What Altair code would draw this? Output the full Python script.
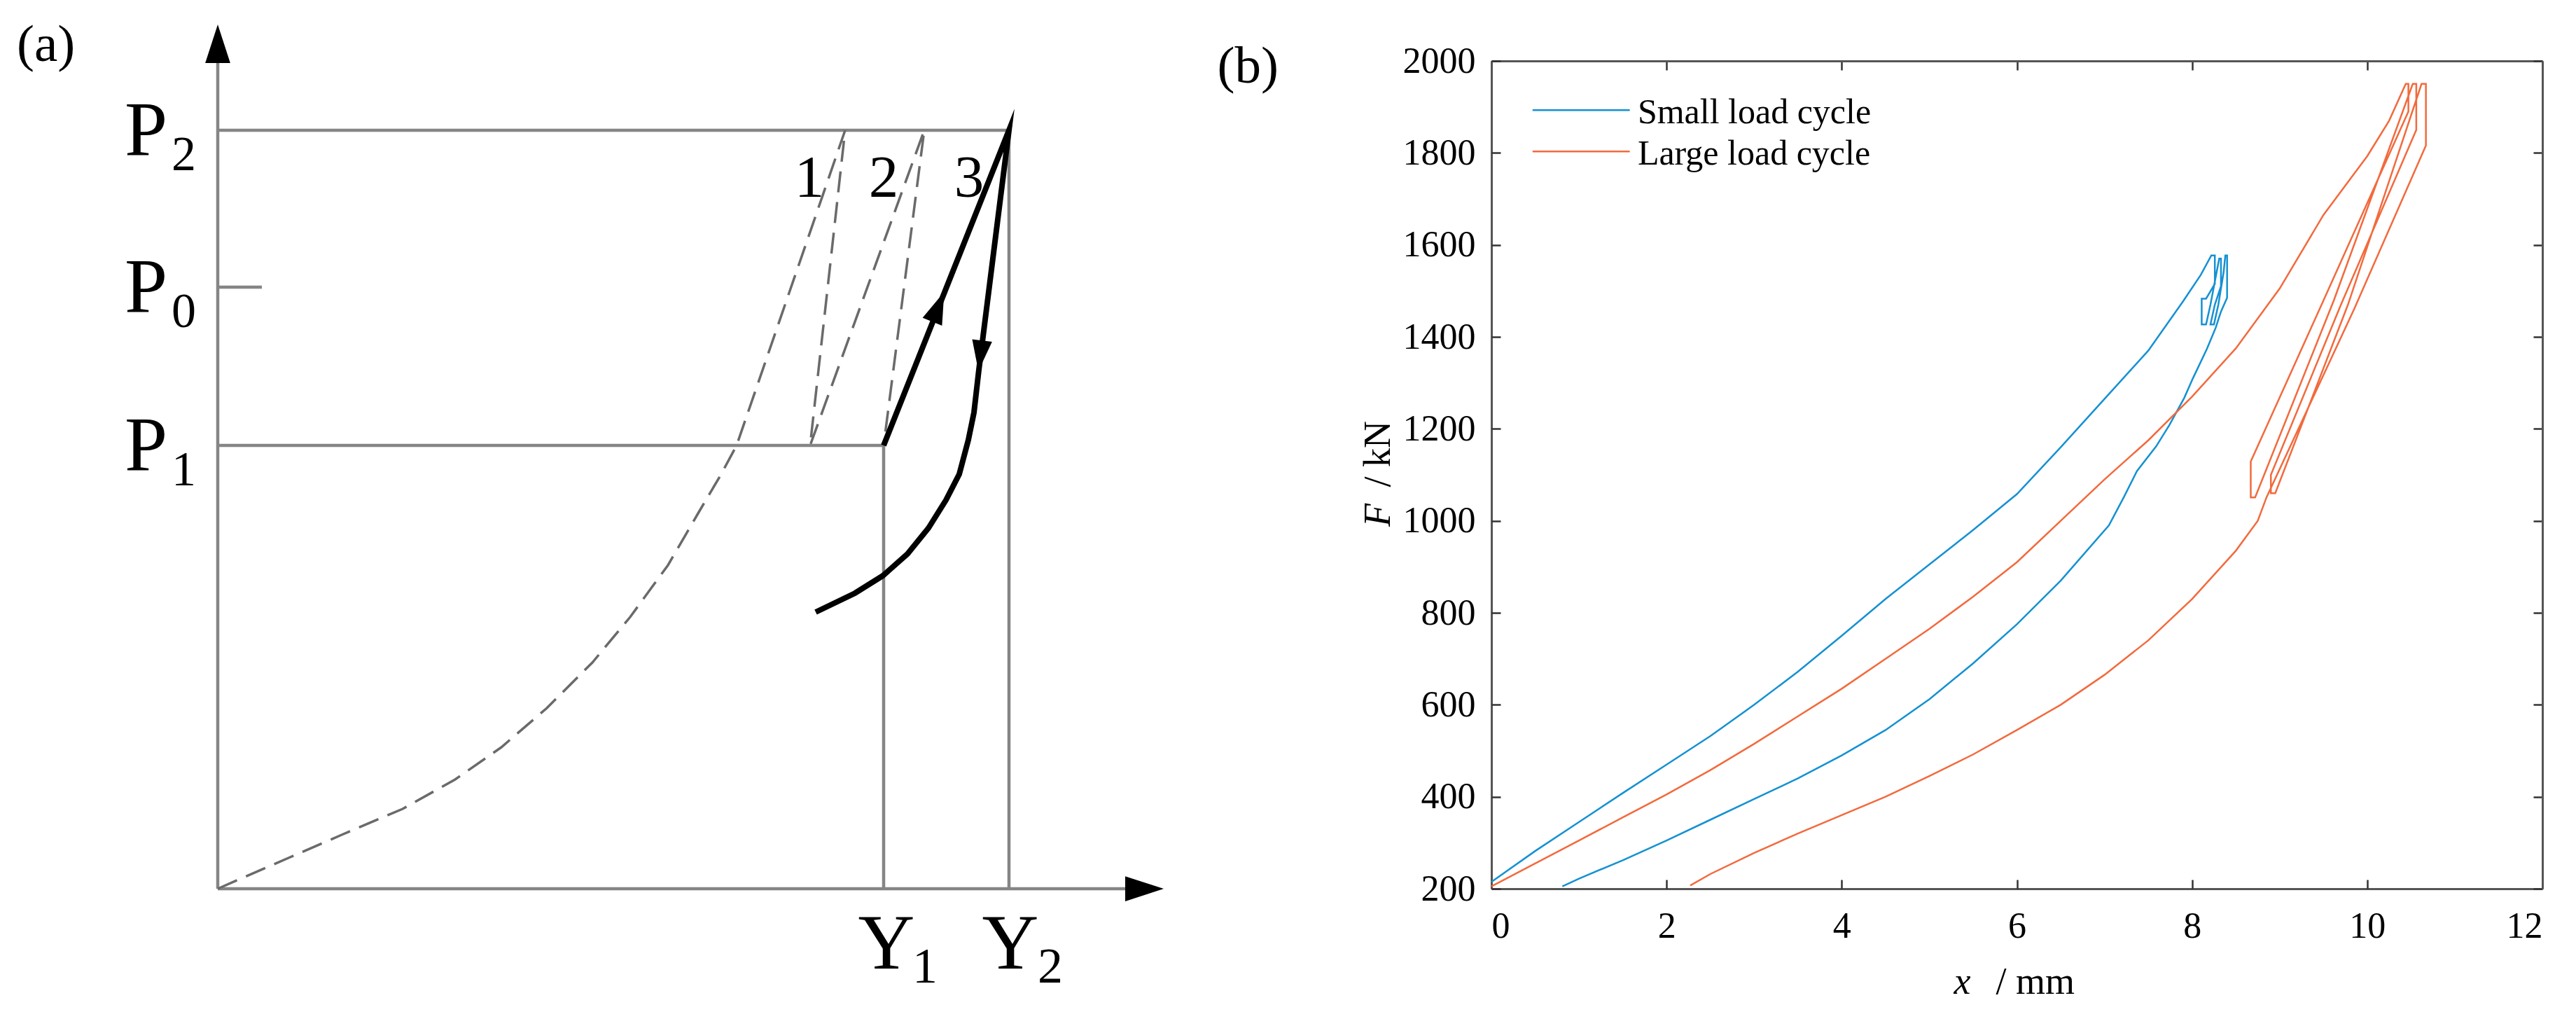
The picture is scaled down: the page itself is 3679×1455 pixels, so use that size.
import altair as alt
import pandas as pd

FONT = "Liberation Serif"
BLUE = "#1591D2"
ORANGE = "#F26A3D"
AXIS_GREY = "#555555"

# ---------------- Panel (b): measured curves (x in mm, F in kN) ----------------
series_names = ["Small load cycle", "Large load cycle"]

small_x = [0.00, 0.50, 1.00, 1.50, 2.00, 2.50, 3.00, 3.50, 4.00, 4.50, 5.00, 5.50, 6.00, 6.50, 7.00, 7.50, 7.90, 8.10, 8.22,
           8.26, 8.26, 8.16, 8.11, 8.11, 8.16, 8.21, 8.28, 8.31, 8.33, 8.33, 8.26, 8.21, 8.25, 8.30, 8.36, 8.38, 8.40, 8.40, 8.33, 8.27,
           8.24, 8.17, 8.01, 7.91, 7.74, 7.59, 7.37, 7.22, 7.05, 6.50, 6.00, 5.50, 5.00, 4.50, 4.00, 3.50, 3.00, 2.50, 2.00, 1.50, 1.00, 0.81]
small_F = [215, 282, 345, 408, 470, 532, 600, 672, 750, 830, 905, 980, 1058, 1160, 1265, 1370, 1478, 1535, 1577,
           1577, 1515, 1483, 1483, 1427, 1427, 1470, 1540, 1570, 1570, 1510, 1470, 1427, 1427, 1470, 1540, 1577, 1577, 1485, 1455, 1420,
           1406, 1374, 1310, 1267, 1208, 1162, 1108, 1051, 990, 870, 775, 690, 612, 545, 490, 440, 395, 350, 305, 262, 222, 205]

large_x = [0.00, 0.50, 1.00, 1.50, 2.00, 2.50, 3.00, 3.50, 4.00, 4.50, 5.00, 5.50, 6.00, 6.50, 7.00, 7.50, 8.00, 8.50, 9.00, 9.50, 10.00, 10.25, 10.44,
           10.47, 10.47, 9.55, 8.67, 8.67, 8.72, 9.62, 10.52, 10.56, 10.56, 9.70, 8.90, 8.90, 8.95, 9.78, 10.62, 10.67, 10.67, 9.85, 8.85,
           8.75, 8.50, 8.00, 7.50, 7.00, 6.50, 6.00, 5.50, 5.00, 4.50, 4.00, 3.50, 3.00, 2.50, 2.27]
large_F = [205, 255, 305, 355, 405, 458, 515, 575, 635, 700, 765, 835, 910, 1000, 1090, 1175, 1270, 1375, 1505, 1665, 1793, 1870, 1950,
           1950, 1890, 1500, 1129, 1051, 1051, 1480, 1950, 1950, 1850, 1470, 1100, 1060, 1060, 1470, 1950, 1950, 1816, 1460, 1051,
           1000, 935, 830, 740, 665, 600, 545, 492, 445, 400, 360, 320, 278, 232, 207]

x_ticks = [0, 2, 4, 6, 8, 10, 12]
y_ticks = [200, 400, 600, 800, 1000, 1200, 1400, 1600, 1800, 2000]

# legend / panel label placement (panel b data units)
legend_line_x = [0.47, 1.58]
legend_line_F = [1893, 1803]
legend_text_x = 1.67
legend_text_F = [1864, 1775]
label_b_pos = (-3.13, 1953)

# ---------------- Panel (a): schematic (drawing units, origin at axes corner) ----------------
A_Y1, A_Y2 = 951, 1130
A_P1, A_P0, A_P2 = 633, 859, 1083

gray_seg_x = [[0, 0], [0, 1296], [0, A_Y2], [0, A_Y1], [0, 63], [A_Y1, A_Y1], [A_Y2, A_Y2]]
gray_seg_y = [[0, 1179], [0, 0], [A_P2, A_P2], [A_P1, A_P1], [A_P0, A_P0], [0, A_P1], [0, A_P2]]

dash_x = [0, 32, 101, 177, 264, 339, 405, 470, 535, 589, 643, 686, 719, 741, 896, 846, 1009, 951]
dash_y = [0, 14, 44, 77, 114, 156, 202, 258, 323, 388, 462, 536, 592, 633, 1083, 633, 1083, 633]

black_x = [951, 1130, 1087, 1080, 1072, 1059, 1040, 1015, 985, 950, 910, 854]
black_y = [633, 1083, 741, 680, 641, 592, 555, 515, 478, 447, 422, 395]

arrow_x = [0, 1323.5, 1029, 1089]
arrow_y = [1206.5, 0, 831, 761]
arrow_angle = [0, 90, 21.7, 187]
arrow_len = [55, 55, 46, 44]
ARROW = "M0,-1L0.65,1L-0.65,1Z"

left_text = ["P", "2", "P", "0", "P", "1", "1", "2", "(a)"]
left_x = [-133, -66, -133, -66, -133, -66, 992, 1171, -287]
left_y = [1048, 1026, 824, 802, 598, 576, -134, -134, 1182]
left_fs = [110, 70, 110, 70, 110, 70, 72, 72, 75]

center_text = ["Y", "Y", "1", "2", "3"]
center_x = [955, 1132, 845, 951, 1073]
center_y = [-114, -114, 988, 988, 988]
center_fs = [112, 112, 85, 85, 85]

# ---------------- Build tables ----------------
rows = []
for name, xs_, fs_ in zip(series_names, [small_x, large_x], [small_F, large_F]):
    for i, (a, b) in enumerate(zip(xs_, fs_)):
        rows.append({"series": name, "x": a, "F": b, "i": i})
df_b = pd.DataFrame(rows)

df_leg = pd.DataFrame({"series": series_names,
                       "x1": [legend_line_x[0]] * 2, "x2": [legend_line_x[1]] * 2,
                       "F": legend_line_F})
df_txt_b = pd.DataFrame({"t": series_names + ["(b)"],
                         "x": [legend_text_x, legend_text_x, label_b_pos[0]],
                         "F": legend_text_F + [label_b_pos[1]],
                         "fs": [50, 50, 75]})

g_rows = []
for s, (xx, yy) in enumerate(zip(gray_seg_x, gray_seg_y)):
    for i, (a, b) in enumerate(zip(xx, yy)):
        g_rows.append({"seg": s, "i": i, "x": a, "y": b})
df_gray = pd.DataFrame(g_rows)
df_dash = pd.DataFrame({"x": dash_x, "y": dash_y, "i": range(len(dash_x))})
df_black = pd.DataFrame({"x": black_x, "y": black_y, "i": range(len(black_x))})
df_arrow = pd.DataFrame({"x": arrow_x, "y": arrow_y, "ang": arrow_angle,
                         "sz": [v * v for v in arrow_len]})
df_tl = pd.DataFrame({"t": left_text, "x": left_x, "y": left_y, "fs": left_fs})
df_tc = pd.DataFrame({"t": center_text, "x": center_x, "y": center_y, "fs": center_fs})

# ---------------- Panel (a) ----------------
xa = alt.Scale(domain=[-291, 1389], nice=False, zero=False)
ya = alt.Scale(domain=[0, 1182], nice=False, zero=False)
XA = alt.X("x:Q", scale=xa, axis=None)
YA = alt.Y("y:Q", scale=ya, axis=None)

gray = alt.Chart(df_gray).mark_line(color="#858585", strokeWidth=4.5, strokeCap="butt").encode(
    x=XA, y=YA, detail="seg:N", order="i:Q")
dash = alt.Chart(df_dash).mark_line(color="#6a6a6a", strokeWidth=3.5, strokeDash=[30, 14]).encode(
    x=XA, y=YA, order="i:Q")
black = alt.Chart(df_black).mark_line(color="black", strokeWidth=8, strokeJoin="miter",
                                      strokeMiterLimit=8).encode(x=XA, y=YA, order="i:Q")
arrows = alt.Chart(df_arrow).mark_point(shape=ARROW, filled=True, color="black", opacity=1,
                                        strokeWidth=0).encode(
    x=XA, y=YA, angle=alt.Angle("ang:Q", scale=None), size=alt.Size("sz:Q", scale=None))
txt_l = alt.Chart(df_tl).mark_text(align="left", baseline="alphabetic", font=FONT, color="black").encode(
    x=XA, y=YA, text="t:N", size=alt.Size("fs:Q", scale=None))
txt_c = alt.Chart(df_tc).mark_text(align="center", baseline="alphabetic", font=FONT, color="black").encode(
    x=XA, y=YA, text="t:N", size=alt.Size("fs:Q", scale=None))

panel_a = alt.layer(gray, dash, black, arrows, txt_l, txt_c).properties(width=1680, height=1182)

# ---------------- Panel (b) ----------------
xs = alt.Scale(domain=[0, 12], nice=False, zero=False)
ys = alt.Scale(domain=[200, 2000], nice=False, zero=False)
cs = alt.Scale(domain=series_names, range=[BLUE, ORANGE])

tick_style = dict(ticks=True, tickSize=13, tickWidth=2.5, tickColor="#333333", labels=False, grid=False)

lines = alt.Chart(df_b).mark_line(strokeWidth=2.5).encode(
    x=alt.X("x:Q", scale=xs, axis=alt.Axis(
        orient="bottom", values=x_ticks, format="d", ticks=False, tickSize=0, grid=False,
        domain=True, domainColor=AXIS_GREY, domainWidth=3,
        labelFont=FONT, labelFontSize=52, labelColor="black", labelPadding=28,
        title="x", titleFont=FONT, titleFontSize=54, titleFontStyle="italic", titleFontWeight="normal",
        titleColor="black", titleX=672, titleY=149, titleAlign="center", titleBaseline="alphabetic",
        titleAngle=0)),
    y=alt.Y("F:Q", scale=ys, axis=alt.Axis(
        orient="left", values=y_ticks, format="d", ticks=False, tickSize=0, grid=False,
        domain=True, domainColor=AXIS_GREY, domainWidth=3,
        labelFont=FONT, labelFontSize=52, labelColor="black", labelPadding=23,
        title="F", titleFont=FONT, titleFontSize=54, titleFontStyle="italic", titleFontWeight="normal",
        titleColor="black", titleX=-146, titleY=648, titleAlign="center", titleBaseline="alphabetic",
        titleAngle=270)),
    color=alt.Color("series:N", scale=cs, legend=None),
    order="i:Q")

legend_rules = alt.Chart(df_leg).mark_rule(strokeWidth=2.5).encode(
    x=alt.X("x1:Q", scale=xs, axis=alt.Axis(
        orient="top", offset=-1182, values=x_ticks, domain=False,
        title="/ mm", titleFont=FONT, titleFontSize=54, titleFontWeight="normal", titleColor="black",
        titleX=720, titleY=149, titleAlign="left", titleBaseline="alphabetic", titleAngle=0,
        **tick_style)),
    x2="x2:Q",
    y=alt.Y("F:Q", scale=ys, axis=alt.Axis(
        orient="right", offset=-1501, values=y_ticks, domain=False,
        title="/ kN", titleFont=FONT, titleFontSize=54, titleFontWeight="normal", titleColor="black",
        titleX=-146, titleY=608, titleAlign="left", titleBaseline="alphabetic", titleAngle=270,
        **tick_style)),
    color=alt.Color("series:N", scale=cs, legend=None))

texts_b = alt.Chart(df_txt_b).mark_text(align="left", baseline="alphabetic", font=FONT, color="black").encode(
    x=alt.X("x:Q", scale=xs, axis=alt.Axis(
        orient="bottom", offset=-1182, values=x_ticks, title=None,
        domain=True, domainColor=AXIS_GREY, domainWidth=3, **tick_style)),
    y=alt.Y("F:Q", scale=ys, axis=alt.Axis(
        orient="left", offset=-1501, values=y_ticks, title=None,
        domain=True, domainColor=AXIS_GREY, domainWidth=3, **tick_style)),
    text="t:N",
    size=alt.Size("fs:Q", scale=None))

panel_b = alt.layer(lines, legend_rules, texts_b).resolve_axis(
    x="independent", y="independent").properties(width=1501, height=1182)

chart = alt.hconcat(panel_a, panel_b, spacing=430, bounds="flush").properties(
    padding={"left": 12, "top": 19, "right": 0, "bottom": 0},
    background="white",
).configure(
    font=FONT,
    view=alt.ViewConfig(stroke="transparent", strokeWidth=0),
)

chart.save("out.html", embed_options={"renderer": "svg", "actions": False})
